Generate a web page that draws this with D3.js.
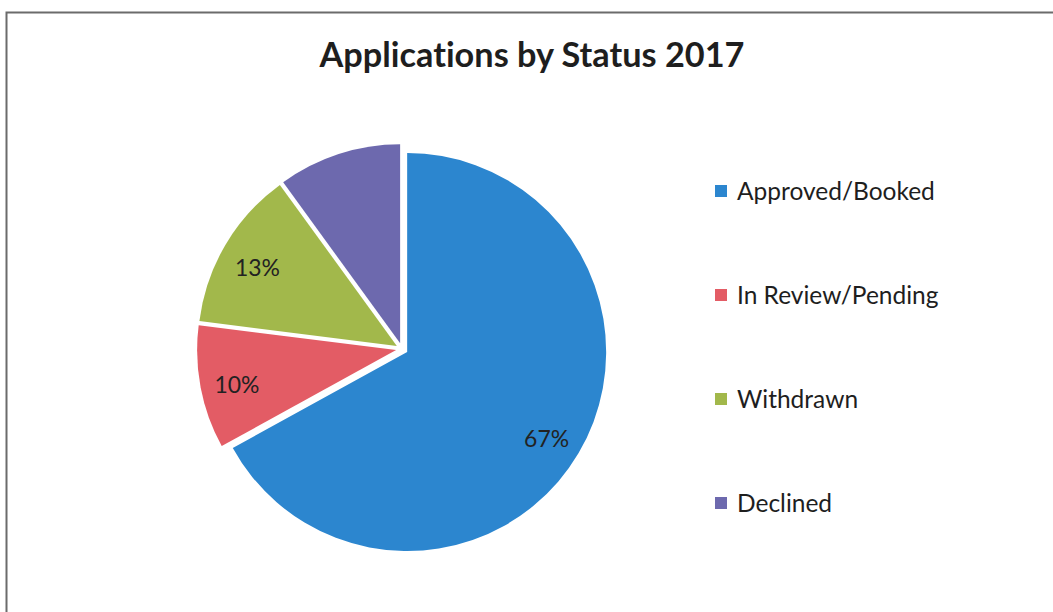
<!DOCTYPE html>
<html lang="en">
<head>
  <meta charset="UTF-8" />
  <title>Applications by Status 2017</title>
  <script src="https://cdnjs.cloudflare.com/ajax/libs/d3/7.8.2/d3.min.js"></script>
  <style>
    body {
      margin: 0;
      padding: 0;
      background: #fff;
    }
    svg {
      display: block;
      font-family: Lato, "Open Sans", sans-serif;
    }
    svg text {
      font-variant-ligatures: none;
      font-feature-settings: "liga" 0, "clig" 0, "dlig" 0;
    }
    .label {
      font-size: 20px;
      fill: #222;
    }
    .legend text {
      font-size: 22px;
      fill: #1e1e1e;
    }
  </style>
</head>
<body>

<svg id="chart"></svg>

<script>
// data
const categories = ["Approved/Booked", "In Review/Pending", "Withdrawn", "Declined"];
const values = [67, 10, 13, 10];
const colors = ["#2c86cf", "#e35c65", "#a2b84b", "#6d69ae"];
const title = "Applications by Status 2017";

const width = 1053, height = 612;
const svg = d3.select("#chart").attr("width", width).attr("height", height);

// frame (only top and left edges show in the scan)
svg.append("path")
  .attr("d", "M6.5,612 L6.5,12.5 L1053,12.5")
  .attr("fill", "none")
  .attr("stroke", "#6b6b6b")
  .attr("stroke-width", 2);

// scale text so it spans the width seen in the picture
function fitWidth(sel, target) {
  const node = sel.node();
  const fs = parseFloat(getComputedStyle(node).fontSize);
  const w = node.getComputedTextLength();
  const size = fs * target / w;
  sel.style("font-size", size + "px");
  return size;
}

const titleText = svg.append("text")
  .attr("x", 532)
  .attr("y", 67)
  .attr("text-anchor", "middle")
  .style("font-size", "28px")
  .style("font-weight", "bold")
  .attr("fill", "#1e1e1e")
  .text(title);
fitWidth(titleText, 425);

/* pie */
const cx = 402, cy = 349, radius = 199, explode = 6, labelR = 162;

const pie = d3.pie().sort(null).value(d => d);
const arcs = pie(values);
const arc = d3.arc().innerRadius(0).outerRadius(radius);

function offset(d, r) {
  const a = (d.startAngle + d.endAngle) / 2;
  return [Math.sin(a) * r, -Math.cos(a) * r];
}

const pieG = svg.append("g").attr("transform", `translate(${cx},${cy})`);

pieG.selectAll("path.slice")
  .data(arcs)
  .enter()
  .append("path")
  .attr("class", "slice")
  .attr("transform", d => `translate(${offset(d, explode)})`)
  .attr("d", arc)
  .attr("fill", (d, i) => colors[i]);

// Declined has no visible label in the picture
const labels = pieG.selectAll("text.label")
  .data(arcs.filter((d, i) => i !== 3))
  .enter()
  .append("text")
  .attr("class", "label")
  .attr("transform", d => {
    const [x, y] = offset(d, labelR + explode);
    return `translate(${x},${y + 4})`;
  })
  .attr("text-anchor", "middle")
  .attr("dy", "0.35em")
  .text(d => d.data + "%");

const labelSize = fitWidth(labels.filter((d, i) => i === 0), 45);
labels.style("font-size", labelSize + "px");

/* legend */
const legendY = d3.scalePoint()
  .domain(categories)
  .range([191, 503]);

const legend = svg.append("g").attr("class", "legend");
const items = legend.selectAll("g")
  .data(categories)
  .enter()
  .append("g")
  .attr("transform", d => `translate(715,${legendY(d)})`);

items.append("rect")
  .attr("x", 0)
  .attr("y", -6)
  .attr("width", 12)
  .attr("height", 12)
  .attr("fill", (d, i) => colors[i]);

items.append("text")
  .attr("x", 22)
  .attr("dy", "0.35em")
  .text(d => d);

const legendSize = fitWidth(items.filter((d, i) => i === 0).select("text"), 198);
items.selectAll("text").style("font-size", legendSize + "px");
</script>

</body>
</html>
